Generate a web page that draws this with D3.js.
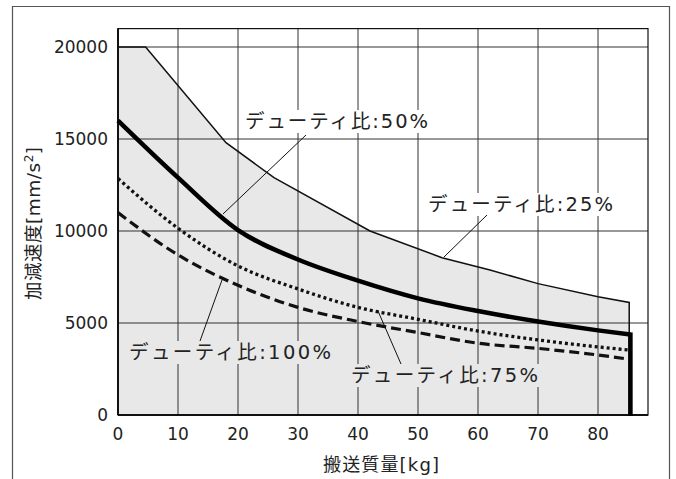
<!DOCTYPE html>
<html><head><meta charset="utf-8">
<script src="https://cdn.jsdelivr.net/npm/d3@7"></script>
<style>
body{margin:0;background:#fff;}
text{font-family:"DejaVu Sans","Noto Sans CJK JP",sans-serif;fill:#222;}
</style></head>
<body><svg id="c" width="676" height="479"></svg>
<script>
const xTicks = [0,10,20,30,40,50,60,70,80];
const yTicks = [0,5000,10000,15000,20000];
const duty25 = [[0,20000],[4.6,20000],[18,14800],[26,12900],[42,10000],[54,8550],[62,7880],[70,7140],[80,6430],[85.2,6120]];
const duty50 = [[0,16000],[10,12900],[20,10050],[30,8450],[40,7300],[50,6340],[60,5650],[70,5080],[80,4600],[85.4,4380]];
const duty75 = [[0,12850],[10,10150],[20,8100],[30,6850],[40,5850],[50,5200],[60,4560],[70,4080],[80,3700],[85.2,3530]];
const duty100 = [[0,11000],[10,8700],[20,7050],[30,5850],[40,5080],[50,4480],[60,3900],[70,3620],[80,3260],[85.2,3030]];
const labels = [
  {text:"デューティ比:50%", x:245, y:128, w:183, bg:"#fff", lx1:306, ly1:135, lx2:223, ly2:214},
  {text:"デューティ比:25%", x:428, y:211, w:185, bg:"#fff", lx1:487, ly1:215, lx2:444, ly2:257},
  {text:"デューティ比:100%", x:129, y:359, w:202, bg:"#e8e8e8", lx1:200, ly1:341, lx2:222, ly2:280},
  {text:"デューティ比:75%", x:351, y:382, w:187, bg:"#e8e8e8", lx1:401, ly1:364, lx2:378, ly2:311}
];
const xTitle = "搬送質量[kg]";
const yTitle = "加減速度[mm/s";

const svg = d3.select("#c");
const x = d3.scaleLinear().domain([0,88.33]).range([118,648]);
const y = d3.scaleLinear().domain([0,21000]).range([415,28.6]);

// outer frame
svg.append("path").attr("d","M12.5,479 V6.5 H669.5 V479").attr("fill","none").attr("stroke","#555").attr("stroke-width",1.2);

// grey envelope fill
const last25 = duty25[duty25.length-1];
const area = d3.area().x(d=>x(d[0])).y0(y(0)).y1(d=>y(d[1]));
svg.append("path").datum(duty25).attr("d",area).attr("fill","#e8e8e8");

// grid
const g = svg.append("g");
g.selectAll(".gx").data(xTicks.slice(1)).join("line")
  .attr("x1",d=>x(d)).attr("x2",d=>x(d)).attr("y1",y(0)).attr("y2",y(21000))
  .attr("stroke","#333").attr("stroke-width",1);
g.selectAll(".gy").data(yTicks.slice(1)).join("line")
  .attr("x1",x(0)).attr("x2",x(88.33)).attr("y1",d=>y(d)).attr("y2",d=>y(d))
  .attr("stroke","#333").attr("stroke-width",1);
svg.append("rect").attr("x",x(0)).attr("y",y(21000)).attr("width",x(88.33)-x(0)).attr("height",y(0)-y(21000))
  .attr("fill","none").attr("stroke","#111").attr("stroke-width",1.2);
svg.append("line").attr("x1",x(0)).attr("x2",x(0)).attr("y1",y(0)).attr("y2",y(21000)).attr("stroke","#111").attr("stroke-width",2);
svg.append("line").attr("x1",x(0)).attr("x2",x(88.33)).attr("y1",y(0)).attr("y2",y(0)).attr("stroke","#111").attr("stroke-width",2);

// labels with background
labels.forEach(l=>{
  const t = svg.append("text").attr("x",l.x).attr("y",l.y).attr("font-size",19.5)
    .attr("textLength",l.w).attr("lengthAdjust","spacing").text(l.text);
  const b = t.node().getBBox();
  svg.insert("rect","text").attr("x",l.x-3).attr("y",b.y).attr("width",l.w+6).attr("height",b.height).attr("fill",l.bg);
  svg.append("line").attr("x1",l.lx1).attr("y1",l.ly1).attr("x2",l.lx2).attr("y2",l.ly2).attr("stroke","#111").attr("stroke-width",1);
});
svg.selectAll("text").raise();

const line = d3.line().x(d=>x(d[0])).y(d=>y(d[1]));
// envelope line
svg.append("path").datum(duty25.concat([[last25[0],0]])).attr("d",line).attr("fill","none").attr("stroke","#111").attr("stroke-width",1.5);
// 100% dashed
svg.append("path").datum(duty100).attr("d",d3.line().x(d=>x(d[0])).y(d=>y(d[1])).curve(d3.curveMonotoneX))
  .attr("fill","none").attr("stroke","#111").attr("stroke-width",3.2).attr("stroke-dasharray","10,5");
// 75% dotted
svg.append("path").datum(duty75).attr("d",d3.line().x(d=>x(d[0])).y(d=>y(d[1])).curve(d3.curveMonotoneX))
  .attr("fill","none").attr("stroke","#111").attr("stroke-width",3.3).attr("stroke-dasharray","3,3");
// 50% thick
const l50 = duty50[duty50.length-1];
svg.append("path").datum(duty50).attr("d",d3.line().x(d=>x(d[0])).y(d=>y(d[1])).curve(d3.curveMonotoneX))
  .attr("fill","none").attr("stroke","#000").attr("stroke-width",4.5);
svg.append("line").attr("x1",x(l50[0])).attr("x2",x(l50[0])).attr("y1",y(l50[1])-2).attr("y2",y(0)+1)
  .attr("stroke","#000").attr("stroke-width",4.5);

// axes tick labels
svg.selectAll(".yt").data(yTicks).join("text")
  .attr("x",108).attr("y",d=>y(d)+6).attr("text-anchor","end").attr("font-size",17).text(d=>d);
svg.selectAll(".xt").data(xTicks).join("text")
  .attr("x",d=>x(d)).attr("y",440).attr("text-anchor","middle").attr("font-size",17).text(d=>d);

// titles
svg.append("text").attr("x",323).attr("y",471).attr("font-size",18)
  .attr("textLength",116).attr("lengthAdjust","spacing").text(xTitle);
const yt = svg.append("text").attr("transform","translate(40,300) rotate(-90)").attr("font-size",18.5)
  .attr("textLength",153).attr("lengthAdjust","spacing");
yt.append("tspan").text(yTitle);
yt.append("tspan").attr("dy",-7).attr("font-size",12).text("2");
yt.append("tspan").attr("dy",7).text("]");
</script></body></html>
